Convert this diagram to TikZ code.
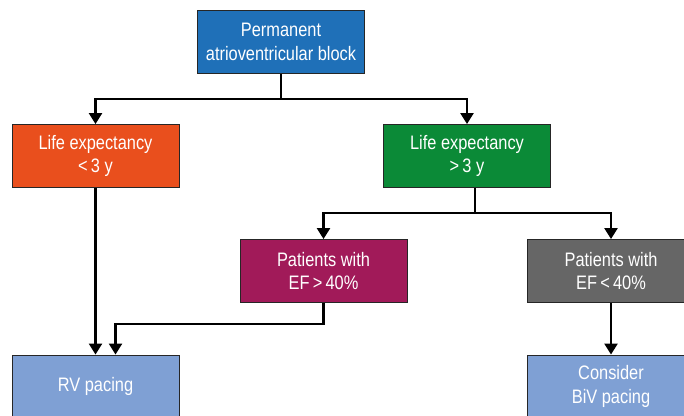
\documentclass[tikz,border=0pt]{standalone}
\usepackage{fontspec}
\setmainfont{Liberation Sans}[FakeStretch=0.84]
\usetikzlibrary{arrows.meta}
\definecolor{cblue}{HTML}{1F70B8}
\definecolor{corange}{HTML}{E94F1D}
\definecolor{cgreen}{HTML}{0B8A37}
\definecolor{cpurple}{HTML}{A11A59}
\definecolor{cgray}{HTML}{666666}
\definecolor{clight}{HTML}{7FA0D4}
\begin{document}
\begin{tikzpicture}[x=1pt,y=-1pt,
  box/.style={draw=black!85, line width=0.9pt, minimum width=167pt, minimum height=63pt,
    text=white, align=center, inner sep=0pt, font=\fontsize{19.5}{23.5}\selectfont},
  conn/.style={line width=2.4pt, black},
  arr/.style={conn, -{Triangle[width=13pt,length=11pt]}}]
\useasboundingbox (0,0) rectangle (684,415);
\node[box, fill=cblue] (top) at (281,42) {Permanent\\atrioventricular block};
\node[box, fill=corange] (le3) at (95.5,156) {Life expectancy\\<\,3 y};
\node[box, fill=cgreen] (ge3) at (467,156) {Life expectancy\\>\,3 y};
\node[box, fill=cpurple] (efg) at (323.5,271) {Patients with\\EF\,>\,40\%};
\node[box, fill=cgray] (efl) at (611,271) {Patients with\\EF\,<\,40\%};
\node[box, fill=clight] (rv) at (95.5,386.5) {RV pacing};
\node[box, fill=clight] (biv) at (611,386.5) {Consider\\BiV pacing};
\coordinate (j1) at (281,99);
\coordinate (j2) at (475,213);
\coordinate (j3) at (323.5,324);
\draw[conn] (top.south) -- (j1);
\draw[arr] (j1) -| (le3.north);
\draw[arr] (j1) -| (ge3.north);
\draw[conn] (ge3.south -| j2) -- (j2);
\draw[arr] (j2) -| (efg.north);
\draw[arr] (j2) -| (efl.north);
\draw[arr] (le3.south) -- (rv.north);
\draw[arr] (efg.south) -- (j3) -| ([xshift=20pt]rv.north);
\draw[arr] (efl.south) -- (biv.north);
\end{tikzpicture}
\end{document}
